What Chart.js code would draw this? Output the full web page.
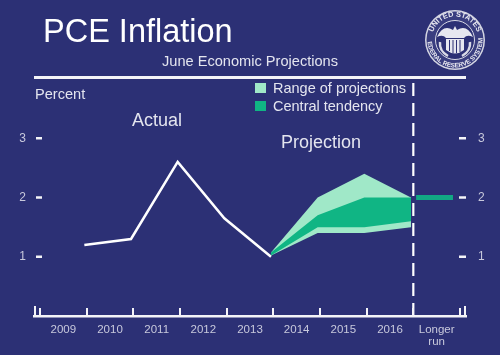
<!DOCTYPE html>
<html>
<head>
<meta charset="utf-8">
<title>PCE Inflation</title>
<script src="https://cdn.jsdelivr.net/npm/chart.js@4/dist/chart.umd.min.js"></script>
<style>
html, body { margin:0; padding:0; background:#2c3075; }
#wrap { position:relative; width:500px; height:355px; overflow:hidden; background:#2c3075; font-family:"Liberation Sans", Arial, sans-serif; color:#e4e5ef; filter:blur(0.35px); }
#wrap canvas { position:absolute; left:0; top:0; }
.txt { position:absolute; white-space:nowrap; line-height:1; }
.swatch { position:absolute; width:11px; height:10px; }
#rule { position:absolute; left:34px; top:76px; width:432px; height:3px; background:#f4f4f8; }
#seal { position:absolute; left:424px; top:9px; }
</style>
</head>
<body>
<div id="wrap">
    <canvas id="pceChart" width="500" height="355"></canvas>
    <div class="txt" style="left:43px;top:15px;font-size:32.5px;color:#fff">PCE Inflation</div>
    <div class="txt" style="left:162px;top:54px;font-size:14.6px">June Economic Projections</div>
    <div id="rule"></div>
    <div class="txt" style="left:35px;top:87px;font-size:14.6px">Percent</div>
    <div class="swatch" style="left:255px;top:83px;background:#a0e8c8"></div>
    <div class="txt" style="left:273px;top:81px;font-size:14.5px">Range of projections</div>
    <div class="swatch" style="left:255px;top:101px;background:#10b584"></div>
    <div class="txt" style="left:273px;top:99px;font-size:14.5px">Central tendency</div>
    <div class="txt" style="left:132px;top:111px;font-size:18px">Actual</div>
    <div class="txt" style="left:281px;top:133px;font-size:18px">Projection</div>
    <svg id="seal" width="62" height="62" viewBox="0 0 62 62">
        <defs>
            <path id="sealTop" d="M 7.5 31 A 23.5 23.5 0 0 1 54.5 31"></path>
            <path id="sealBottom" d="M 3.5 31 A 27.5 27.5 0 0 0 58.5 31"></path>
        </defs>
        <circle cx="31" cy="31" r="30" fill="#d4d5e2"></circle>
        <circle cx="31" cy="31" r="28.5" fill="#3a3e80"></circle>
        <circle cx="31" cy="31" r="19.5" fill="#2c3075" stroke="#d8d9e6" stroke-width="1"></circle>
        <text font-family="Liberation Sans" font-size="7.4" font-weight="bold" fill="#e8e8f0" text-anchor="middle">
            <textPath href="#sealTop" startOffset="50%">UNITED STATES</textPath>
        </text>
        <text font-family="Liberation Sans" font-size="6.4" font-weight="bold" fill="#e8e8f0" text-anchor="middle">
            <textPath href="#sealBottom" startOffset="50%">FEDERAL RESERVE SYSTEM</textPath>
        </text>
        <path d="M13 28 Q19 15 29 21 L31 17 L33 21 Q43 15 49 28 Q43 25 40 29 L22 29 Q19 25 13 28 Z" fill="#e6e7f0"></path>
        <path d="M22 30 H40 V41 Q31 48 22 41 Z" fill="#e6e7f0"></path>
        <path d="M25.5 31 V42 M29 31 V44 M32.5 31 V44 M36 31 V43" stroke="#2c3075" stroke-width="1"></path>
        <path d="M16 33 Q15 42 24 47 M46 33 Q47 42 38 47" stroke="#d8d9e6" stroke-width="2.5" fill="none"></path>
    </svg>
</div>
<script>
const yearLabels = ["2009","2010","2011","2012","2013","2014","2015","2016",["Longer","run"]];
const labelYears = [2009,2010,2011,2012,2013,2014,2015,2016,2017];
const tickYears = [2008.5,2009.5,2010.5,2011.5,2012.5,2013.5,2014.5,2015.5,2016.5,2017.5];
const percentTicks = [1,2,3];

const actualYears = [2009.45,2010.45,2011.45,2012.45,2013.45];
const actualValues = [1.2,1.3,2.6,1.65,1.0];

const projYears = [2013.45,2014.45,2015.45,2016.45];
const rangeHigh = [1.07,2.0,2.4,2.0];
const rangeLow = [1.02,1.4,1.4,1.5];
const centralHigh = [1.07,1.7,2.0,2.0];
const centralLow = [1.02,1.5,1.5,1.6];

const longerRunYears = [2016.56,2017.35];
const longerRunValues = [2,2];

const dividerYears = [2016.5,2016.5];
const dividerValues = [0,3.95];

function toPoints(xs, ys){

    return xs.map((x, i) => ({x:x, y:ys[i]}));

}

// short tick marks, placed through the scales
const axisMarks = {

    id:"axisMarks",

    afterDatasetsDraw(chart){

        const ctx = chart.ctx;
        const xs = chart.scales.x;
        const ys = chart.scales.y;
        const bottom = chart.chartArea.bottom;

        ctx.save();
        ctx.strokeStyle = "#f4f4f8";
        ctx.lineWidth = 2;

        tickYears.forEach(year => {
            let px = Math.round(xs.getPixelForValue(year));
            ctx.beginPath();
            ctx.moveTo(px, bottom);
            ctx.lineTo(px, bottom - 8);
            ctx.stroke();
        });

        [xs.min, xs.max].forEach((year, i) => {
            let px = xs.getPixelForValue(year) + (i === 0 ? 1 : -1);
            ctx.beginPath();
            ctx.moveTo(px, bottom);
            ctx.lineTo(px, bottom - 10);
            ctx.stroke();
        });

        ctx.lineWidth = 2.5;
        percentTicks.forEach(value => {
            let py = ys.getPixelForValue(value);
            ctx.beginPath();
            ctx.moveTo(chart.chartArea.left + 2, py);
            ctx.lineTo(chart.chartArea.left + 8, py);
            ctx.moveTo(chart.chartArea.right - 7, py);
            ctx.lineTo(chart.chartArea.right, py);
            ctx.stroke();
        });

        ctx.restore();

    }

};

new Chart(document.getElementById("pceChart"), {

    type:"line",

    data:{
        datasets:[
            // the filler paints the first dataset last, so the central band goes first
            {
                label:"Central tendency",
                data:toPoints(projYears, centralHigh),
                borderWidth:0,
                backgroundColor:"#10b584",
                fill:{target:1},
                pointRadius:0
            },
            {
                label:"Central low",
                data:toPoints(projYears, centralLow),
                borderWidth:0,
                pointRadius:0,
                fill:false
            },
            {
                label:"Range of projections",
                data:toPoints(projYears, rangeHigh),
                borderWidth:0,
                backgroundColor:"#a0e8c8",
                fill:{target:3},
                pointRadius:0
            },
            {
                label:"Range low",
                data:toPoints(projYears, rangeLow),
                borderWidth:0,
                pointRadius:0,
                fill:false
            },
            {
                label:"Actual",
                data:toPoints(actualYears, actualValues),
                borderColor:"#ffffff",
                borderWidth:2.5,
                pointRadius:0,
                fill:false
            },
            {
                label:"Longer run",
                data:toPoints(longerRunYears, longerRunValues),
                borderColor:"#12a884",
                borderWidth:5,
                pointRadius:0,
                fill:false
            },
            {
                label:"Divider",
                data:toPoints(dividerYears, dividerValues),
                borderColor:"#ffffff",
                borderWidth:2.2,
                borderDash:[13,7],
                pointRadius:0,
                fill:false
            }
        ]
    },

    options:{
        responsive:false,
        animation:false,
        parsing:false,
        normalized:true,
        layout:{padding:{top:79,left:0,right:0,bottom:0}},
        plugins:{legend:{display:false},title:{display:false},tooltip:{enabled:false}},
        scales:{
            x:{
                type:"linear",
                min:2008.371,
                max:2017.629,
                afterBuildTicks(axis){
                    axis.ticks = labelYears.map(v => ({value:v}));
                },
                afterFit(axis){
                    axis.height = 39;
                },
                grid:{display:false},
                border:{display:true,color:"#f4f4f8",width:2.5},
                ticks:{
                    autoSkip:false,
                    maxRotation:0,
                    padding:0,
                    color:"#c8c9dc",
                    font:{family:"Liberation Sans",size:11.5,lineHeight:1.05},
                    callback(value){
                        return yearLabels[labelYears.indexOf(value)];
                    }
                }
            },
            y:{
                type:"linear",
                position:"left",
                min:0,
                max:4,
                afterBuildTicks(axis){
                    axis.ticks = percentTicks.map(v => ({value:v}));
                },
                afterFit(axis){
                    axis.width = 34;
                },
                grid:{display:false,drawTicks:false},
                border:{display:false},
                ticks:{padding:8,color:"#c8c9dc",font:{family:"Liberation Sans",size:12}}
            },
            y2:{
                type:"linear",
                position:"right",
                min:0,
                max:4,
                afterBuildTicks(axis){
                    axis.ticks = percentTicks.map(v => ({value:v}));
                },
                afterFit(axis){
                    axis.width = 34;
                },
                grid:{display:false,drawTicks:false},
                border:{display:false},
                ticks:{padding:12,color:"#c8c9dc",font:{family:"Liberation Sans",size:12}}
            }
        }
    },

    plugins:[axisMarks]

});
</script>
</body>
</html>
